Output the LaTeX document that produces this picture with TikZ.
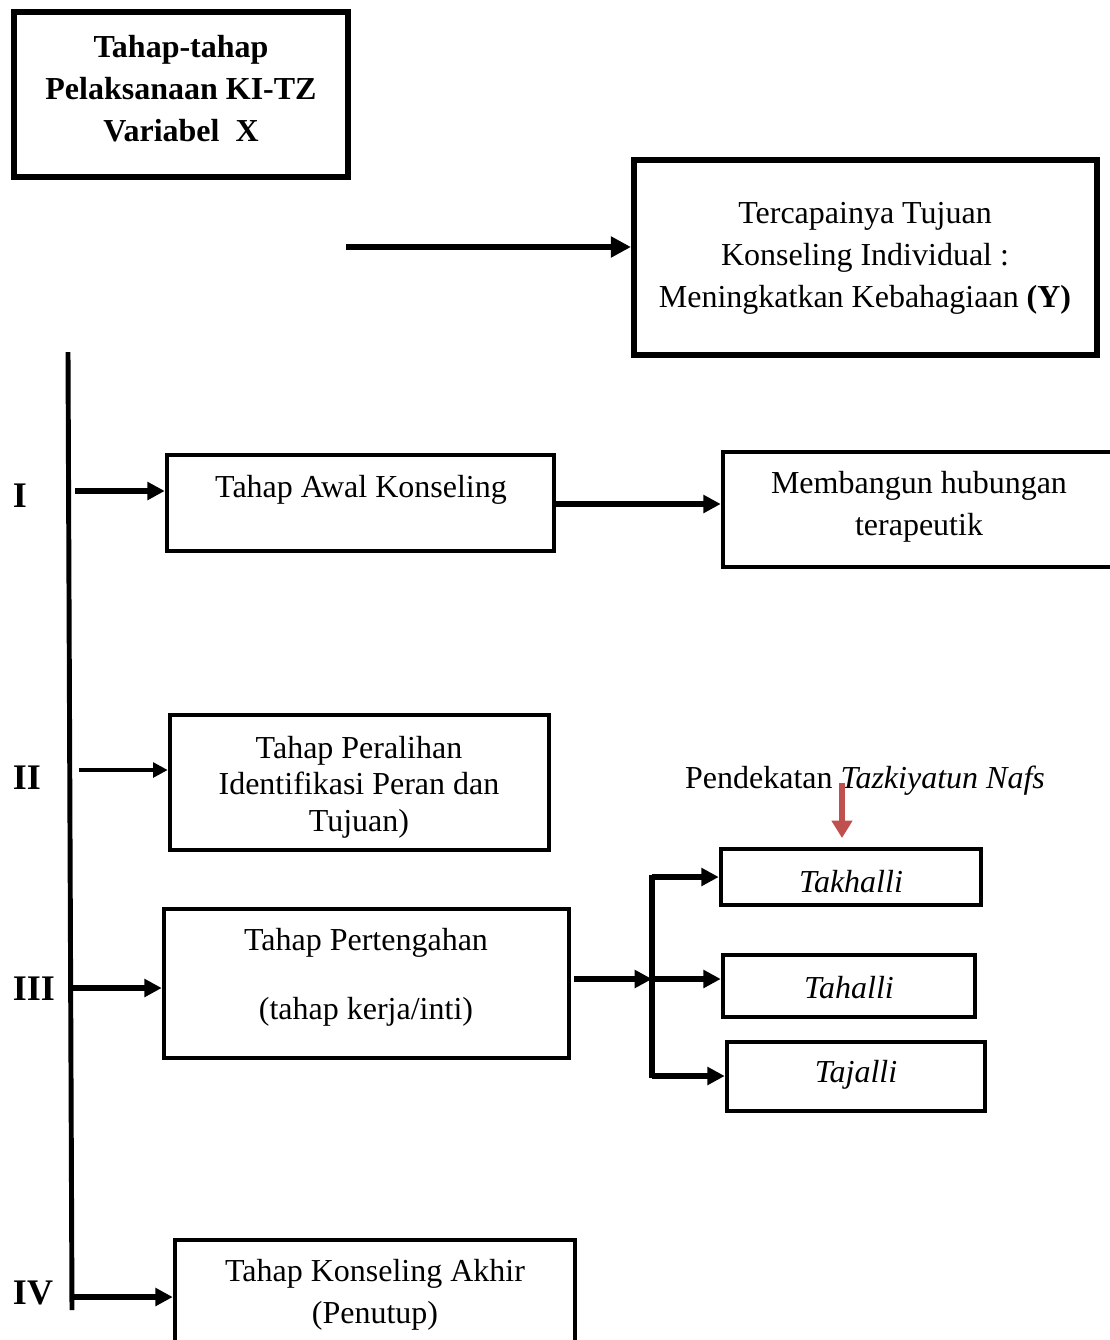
\documentclass[tikz,border=0pt]{standalone}
\usepackage{fontspec}
\setmainfont{Liberation Serif}
\usetikzlibrary{arrows.meta,calc,fit}
\definecolor{redarrow}{RGB}{192,80,77}
\begin{document}
\begin{tikzpicture}[x=0.75pt,y=-0.75pt,
  box/.style={draw, line width=3.4pt, inner sep=0pt, rectangle},
  txt/.style={font=\fontsize{24}{31.5}\selectfont, align=center, inner sep=0pt},
  lbl/.style={font=\fontsize{27}{31.5}\selectfont\bfseries, inner sep=0pt},
  arr/.style={line width=4.5pt, -{Triangle[length=13pt,width=13pt]}},
  bigarr/.style={line width=5pt, -{Triangle[length=15pt,width=15pt]}},
  thinarr/.style={line width=2.6pt, -{Triangle[length=11pt,width=11pt]}},
  redarr/.style={line width=4.2pt, draw=redarrow, -{Triangle[length=13pt,width=15pt]}, redarrow},
]
\useasboundingbox (0,0) rectangle (1110,1340);
\clip (0,0) rectangle (1110,1340);

% boxes
\node[box, line width=3.9pt, fit={(14,12) (348,177)}] (X) {};
\node[box, line width=4.6pt, fit={(634,160) (1097,355)}] (Y) {};
\node[box, fit={(167,455) (554,551)}] (awal) {};
\node[box, fit={(723,452) (1125,567)}] (memb) {};
\node[box, fit={(170,715) (549,850)}] (peral) {};
\node[box, fit={(164,909) (569,1058)}] (pert) {};
\node[box, fit={(721,849) (981,905)}] (takh) {};
\node[box, fit={(723,955) (975,1017)}] (tahal) {};
\node[box, fit={(727,1042) (985,1111)}] (taja) {};
\node[box, fit={(175,1240) (575,1420)}] (akhir) {};

% texts
\node[txt, font=\fontsize{24}{31.5}\selectfont\bfseries] (Xt) at (181,89) {Tahap-tahap\\Pelaksanaan KI-TZ\\Variabel\ \ X};
\node[txt] (Yt) at (865,258) {Tercapainya Tujuan\\Konseling Individual :\\Meningkatkan Kebahagiaan \textbf{(Y)}};
\node[txt] (awalt) at (361,490) {Tahap Awal Konseling};
\node[txt] (membt) at (919,507) {Membangun hubungan\\terapeutik};
\node[txt, font=\fontsize{24}{27.4}\selectfont] (peralt) at (359,787) {Tahap Peralihan\\Identifikasi Peran dan\\Tujuan)};
\node[txt] (pertt) at (366,977) {Tahap Pertengahan\\[20pt](tahap kerja/inti)};
\node[txt] (pend) at (865,781) {Pendekatan \textit{Tazkiyatun Nafs}};
\node[txt] (takht) at (851,882) {\textit{Takhalli}};
\node[txt] (tahalt) at (849,988) {\textit{Tahalli}};
\node[txt] (tajat) at (856,1075) {\textit{Tajalli}};
\node[txt] (akhirt) at (375,1295) {Tahap Konseling Akhir\\(Penutup)};

% stage labels
\node[lbl] (l1) at (20,496) {I};
\node[lbl] (l2) at (27,778) {II};
\node[lbl] (l3) at (34,989) {III};
\node[lbl] (l4) at (33,1293) {IV};

% spine
\coordinate (sTop) at (68,352);
\coordinate (sBot) at (72,1310);
\draw[line width=3.7pt] (sTop) -- (sBot);

% X -> Y arrow
\coordinate (a0) at (346,247);
\draw[bigarr] (a0) -- (a0 -| Y.west);

% stage arrows
\coordinate (s1) at (75,491);
\draw[arr] (s1) -- (s1 -| awal.west);
\coordinate (s2) at (79,770);
\draw[thinarr] (s2) -- (s2 -| peral.west);
\coordinate (s3) at (72,988);
\draw[arr] (s3) -- (s3 -| pert.west);
\coordinate (s4) at (72,1297);
\draw[arr] (s4) -- (s4 -| akhir.west);

% awal -> membangun
\coordinate (m0) at (554,504);
\draw[arr] (m0) -- (m0 -| memb.west);

% pertengahan -> branches
\coordinate (p0) at (574,979);
\coordinate (j) at (652,979);
\coordinate (jt) at (652,877);
\coordinate (jb) at (652,1076);
\draw[arr] (p0) -- (j);
\draw[line width=4.5pt] ($(jt)+(0,-2.25)$) -- ($(jb)+(0,2.25)$);
\draw[arr] (jt) -- (jt -| takh.west);
\draw[arr] (j) -- (j -| tahal.west);
\draw[arr] (jb) -- (jb -| taja.west);

% red arrow
\coordinate (r0) at (842,783);
\coordinate (r1) at (842,838);
\draw[redarr] (r0) -- (r1);
\end{tikzpicture}
\end{document}
